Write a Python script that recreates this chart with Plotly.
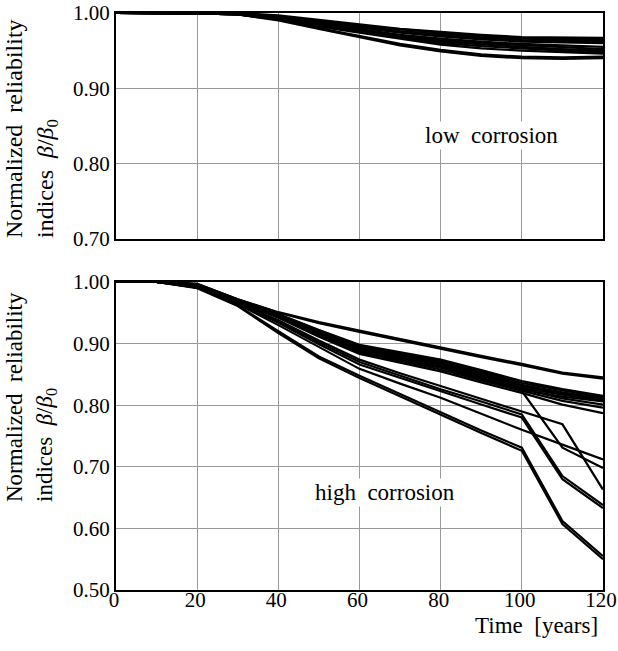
import plotly.graph_objects as go

years = [0, 10, 20, 30, 40, 50, 60, 70, 80, 90, 100, 110, 120]
x_ticks = [0, 20, 40, 60, 80, 100, 120]
low_y_ticks = [0.70, 0.80, 0.90, 1.00]
high_y_ticks = [0.50, 0.60, 0.70, 0.80, 0.90, 1.00]

# low corrosion curves
low_a1 = [1, 1, 0.9995, 1.000, 0.997, 0.991, 0.984, 0.979, 0.975, 0.971, 0.968, 0.967, 0.967]
low_a2 = [1, 1, 0.9995, 0.999, 0.996, 0.990, 0.983, 0.978, 0.974, 0.970, 0.967, 0.966, 0.966]
low_a3 = [1, 1, 0.9995, 0.999, 0.995, 0.989, 0.982, 0.976, 0.972, 0.968, 0.966, 0.965, 0.964]
low_a4 = [1, 1, 0.9995, 0.999, 0.995, 0.988, 0.981, 0.975, 0.970, 0.967, 0.964, 0.963, 0.962]
low_a5 = [1, 1, 0.9995, 0.999, 0.994, 0.987, 0.980, 0.974, 0.969, 0.965, 0.962, 0.961, 0.960]
low_b1 = [1, 1, 0.9995, 0.999, 0.994, 0.986, 0.978, 0.971, 0.966, 0.962, 0.959, 0.957, 0.955]
low_b2 = [1, 1, 0.9995, 0.998, 0.993, 0.985, 0.977, 0.970, 0.964, 0.960, 0.957, 0.954, 0.952]
low_b3 = [1, 1, 0.9995, 0.998, 0.993, 0.984, 0.976, 0.968, 0.962, 0.958, 0.955, 0.952, 0.950]
low_b4 = [1, 1, 0.9995, 0.998, 0.992, 0.983, 0.975, 0.967, 0.960, 0.956, 0.953, 0.950, 0.948]
low_b5 = [1, 1, 0.9995, 0.998, 0.992, 0.982, 0.974, 0.966, 0.958, 0.953, 0.950, 0.948, 0.946]
low_c1 = [1, 1, 0.9995, 0.998, 0.991, 0.980, 0.970, 0.959, 0.951, 0.945, 0.942, 0.941, 0.942]
low_c2 = [1, 1, 0.9995, 0.998, 0.990, 0.979, 0.968, 0.957, 0.949, 0.943, 0.940, 0.939, 0.940]

# high corrosion curves
high_t1 = [1, 1, 0.997, 0.972, 0.951, 0.935, 0.921, 0.907, 0.894, 0.880, 0.867, 0.853, 0.845]
high_t2 = [1, 1, 0.997, 0.972, 0.950, 0.933, 0.919, 0.905, 0.892, 0.878, 0.865, 0.851, 0.843]
high_m1 = [1, 1, 0.996, 0.971, 0.948, 0.922, 0.898, 0.886, 0.874, 0.857, 0.839, 0.826, 0.815]
high_m2 = [1, 1, 0.996, 0.970, 0.947, 0.921, 0.896, 0.884, 0.872, 0.855, 0.836, 0.824, 0.813]
high_m3 = [1, 1, 0.995, 0.970, 0.946, 0.919, 0.894, 0.882, 0.870, 0.852, 0.833, 0.821, 0.811]
high_m4 = [1, 1, 0.995, 0.969, 0.946, 0.918, 0.892, 0.880, 0.868, 0.850, 0.831, 0.819, 0.809]
high_m5 = [1, 1, 0.994, 0.969, 0.945, 0.917, 0.890, 0.878, 0.866, 0.848, 0.828, 0.817, 0.807]
high_m6 = [1, 1, 0.994, 0.968, 0.944, 0.915, 0.888, 0.876, 0.863, 0.845, 0.825, 0.814, 0.806]
high_l1 = [1, 1, 0.994, 0.968, 0.944, 0.914, 0.887, 0.874, 0.861, 0.842, 0.826, 0.811, 0.801]
high_l2 = [1, 1, 0.993, 0.968, 0.943, 0.913, 0.885, 0.872, 0.858, 0.840, 0.823, 0.807, 0.796]
high_l3 = [1, 1, 0.993, 0.967, 0.942, 0.911, 0.883, 0.869, 0.855, 0.837, 0.820, 0.801, 0.787]
high_x = [1, 1, 0.994, 0.969, 0.945, 0.917, 0.890, 0.878, 0.866, 0.845, 0.823, 0.731, 0.698]
high_y = [1, 1, 0.993, 0.966, 0.938, 0.905, 0.874, 0.852, 0.831, 0.811, 0.790, 0.769, 0.663]
high_w1 = [1, 1, 0.992, 0.966, 0.936, 0.902, 0.870, 0.848, 0.826, 0.806, 0.785, 0.685, 0.638]
high_w2 = [1, 1, 0.992, 0.965, 0.934, 0.899, 0.866, 0.844, 0.822, 0.801, 0.780, 0.680, 0.633]
high_z = [1, 1, 0.991, 0.964, 0.930, 0.894, 0.859, 0.835, 0.812, 0.786, 0.760, 0.736, 0.712]
high_v1 = [1, 1, 0.991, 0.962, 0.920, 0.879, 0.848, 0.818, 0.788, 0.759, 0.731, 0.612, 0.555]
high_v2 = [1, 1, 0.990, 0.961, 0.917, 0.876, 0.844, 0.814, 0.784, 0.755, 0.726, 0.607, 0.550]

low_series = [low_a1, low_a2, low_a3, low_a4, low_a5, low_b1, low_b2, low_b3,
              low_b4, low_b5, low_c1, low_c2]
high_series = [high_t1, high_t2, high_m1, high_m2, high_m3, high_m4, high_m5, high_m6,
               high_l1, high_l2, high_l3, high_x, high_y, high_w1, high_w2, high_z,
               high_v1, high_v2]

FONT = "Liberation Serif"
fig = go.Figure()
for s in low_series:
    fig.add_trace(go.Scatter(x=years, y=s, mode="lines", xaxis="x", yaxis="y",
                             line=dict(color="black", width=2.2), showlegend=False,
                             hoverinfo="skip"))
for s in high_series:
    fig.add_trace(go.Scatter(x=years, y=s, mode="lines", xaxis="x2", yaxis="y2",
                             line=dict(color="black", width=2.2), showlegend=False,
                             hoverinfo="skip"))

W, H = 618, 651
L, R, T, B = 116, 15, 13, 61
ph = H - T - B
top_dom = [1 - (239 - 13) / ph, 1]
bot_dom = [0, (590 - 282) / ph]

axis_common = dict(showline=True, linecolor="black", linewidth=2, mirror=True,
                   showgrid=True, gridcolor="#9a9a9a", gridwidth=1, ticks="",
                   zeroline=False, automargin=False, ticklabeloverflow="allow",
                   tickfont=dict(family=FONT, size=21, color="black"))

fig.update_layout(
    template="none",
    width=W, height=H,
    margin=dict(l=L, r=R, t=T, b=B, autoexpand=False),
    font=dict(family=FONT, color="black"),
    paper_bgcolor="white", plot_bgcolor="white",
    showlegend=False,
    xaxis=dict(domain=[0, 1], range=[0, 120], tickvals=x_ticks, showticklabels=False,
               anchor="y", **axis_common),
    yaxis=dict(domain=top_dom, range=[0.70, 1.00], tickvals=low_y_ticks,
               tickformat=".2f", anchor="x", ticklabelstandoff=0, **axis_common),
    xaxis2=dict(domain=[0, 1], range=[0, 120], tickvals=x_ticks, anchor="y2",
                ticklabelstandoff=-10, ticklabelshift=-2, **axis_common),
    yaxis2=dict(domain=bot_dom, range=[0.50, 1.00], tickvals=high_y_ticks,
                tickformat=".2f", anchor="x2", ticklabelstandoff=0, **axis_common),
)


def px_x(vx):
    return (vx - L) / (W - L - R)


def px_y(vy):
    return 1 - (vy - T) / ph


ytitle = "Normalized  reliability<br>indices  <i>β</i>/<i>β</i><sub>0</sub>"
fig.add_annotation(text=ytitle, xref="paper", yref="paper",
                   x=px_x(31), y=px_y(129),
                   xanchor="center", yanchor="middle", textangle=-90, align="left",
                   showarrow=False, font=dict(family=FONT, size=24, color="black"))
fig.add_annotation(text=ytitle, xref="paper", yref="paper",
                   x=px_x(31), y=px_y(397),
                   xanchor="center", yanchor="middle", textangle=-90, align="left",
                   showarrow=False, font=dict(family=FONT, size=23, color="black"))

fig.add_annotation(text="low  corrosion", xref="x", yref="y", x=92.5, y=0.838,
                   showarrow=False, bgcolor="white",
                   font=dict(family=FONT, size=23, color="black"))
fig.add_annotation(text="high  corrosion", xref="x2", yref="y2", x=66.4, y=0.659,
                   showarrow=False, bgcolor="white",
                   font=dict(family=FONT, size=23, color="black"))
fig.add_annotation(text="Time  [years]", xref="paper", yref="paper",
                   x=px_x(600), y=px_y(625),
                   xanchor="right", yanchor="middle", showarrow=False,
                   font=dict(family=FONT, size=23, color="black"))

fig.write_html("out.html", config={"displayModeBar": False},
               post_script="document.body.style.margin='0';")
